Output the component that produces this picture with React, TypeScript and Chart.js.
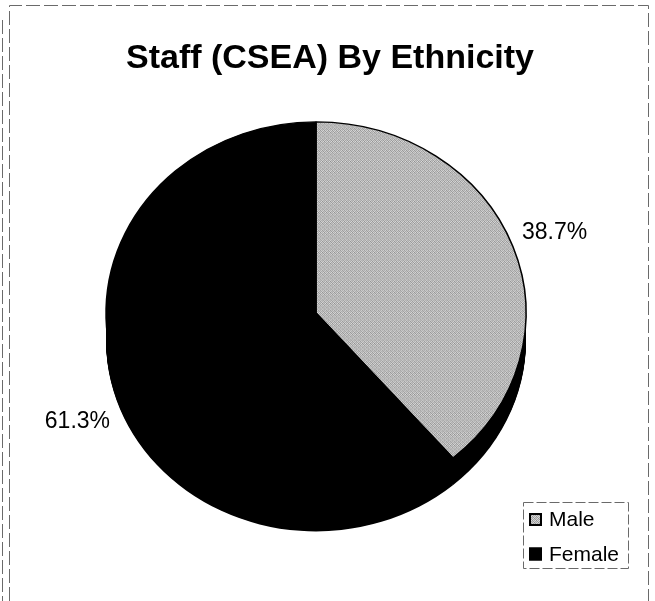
import React, { useEffect, useRef } from "react";
import { Chart, registerables } from "chart.js";

Chart.register(...registerables);

// ---- data ----
const chartTitle = "Staff (CSEA) By Ethnicity";
const categories = ["Male", "Female"];
const shares = [38.7, 61.3];
const valueLabels = ["38.7%", "61.3%"];

// ---- layout / style ----
const W = 655;
const H = 601;
const RADIUS = 210;
const TILT = 0.91;
const DEPTH = 28;
const FONT = '"Liberation Sans", Arial, Helvetica, sans-serif';

function makeGrain(): CanvasPattern | string {
  const c = document.createElement("canvas");
  c.width = 4;
  c.height = 4;
  const g = c.getContext("2d");
  if (!g) return "#b2b2b2";
  const shades = [
    "#949494", "#d4d4d4", "#acacac", "#dadada",
    "#c4c4c4", "#9c9c9c", "#d6d6d6", "#a6a6a6",
    "#a8a8a8", "#dcdcdc", "#909090", "#cacaca",
    "#d0d0d0", "#a4a4a4", "#c8c8c8", "#9a9a9a",
  ];
  shades.forEach((s, i) => {
    g.fillStyle = s;
    g.fillRect(i % 4, Math.floor(i / 4), 1, 1);
  });
  return g.createPattern(c, "repeat") || "#b2b2b2";
}

const framePlugin = {
  id: "frame",
  beforeDraw(chart: any) {
    const ctx = chart.ctx;
    ctx.save();
    ctx.strokeStyle = "#6a6a6a";
    ctx.lineWidth = 1;
    ctx.setLineDash([14, 4]);
    ctx.beginPath();
    ctx.moveTo(9.5, H);
    ctx.lineTo(9.5, 5.5);
    ctx.lineTo(648.5, 5.5);
    ctx.lineTo(648.5, H);
    ctx.moveTo(2.5, 20);
    ctx.lineTo(2.5, H);
    ctx.stroke();
    ctx.restore();
  },
};

const tiltPlugin = {
  id: "tilt3d",
  beforeDatasetsDraw(chart: any) {
    const ctx = chart.ctx;
    const arcs = chart.getDatasetMeta(0).data;
    ctx.save();
    if (!arcs.length) return;
    const cx = arcs[0].x;
    const cy = arcs[0].y;
    ctx.translate(cx, cy);
    ctx.scale(1, TILT);
    ctx.translate(-cx, -cy);
    // side wall of the tilted pie
    ctx.fillStyle = "#000";
    const depth = DEPTH / TILT;
    for (let off = 1; off <= depth; off += 1) {
      arcs.forEach((a: any) => {
        const p = a.getProps(["x", "y", "startAngle", "endAngle", "outerRadius"]);
        ctx.beginPath();
        ctx.moveTo(p.x, p.y + off);
        ctx.arc(p.x, p.y + off, p.outerRadius, p.startAngle, p.endAngle);
        ctx.closePath();
        ctx.fill();
      });
    }
  },
  afterDatasetsDraw(chart: any) {
    const ctx = chart.ctx;
    ctx.restore();
    // value labels placed outside each slice
    const arcs = chart.getDatasetMeta(0).data;
    ctx.save();
    ctx.fillStyle = "#000";
    ctx.font = `23px ${FONT}`;
    ctx.textAlign = "center";
    ctx.textBaseline = "middle";
    arcs.forEach((a: any, i: number) => {
      const p = a.getProps(["x", "y", "startAngle", "endAngle", "outerRadius"]);
      const mid = (p.startAngle + p.endAngle) / 2;
      const c = Math.cos(mid);
      const s = Math.sin(mid);
      const ex = p.x + p.outerRadius * c;
      const ey = p.y + p.outerRadius * TILT * s + (s > 0 ? DEPTH : 0);
      const n = Math.hypot(c, s * TILT);
      const lx = ex + (c / n) * 44;
      const ly = ey + ((s * TILT) / n) * 44;
      ctx.fillText(valueLabels[i], lx, ly);
    });
    ctx.restore();
  },
};

const textPlugin = {
  id: "titleLegend",
  afterDraw(chart: any) {
    const ctx = chart.ctx;
    ctx.save();
    // title
    ctx.fillStyle = "#000";
    ctx.font = `bold 34px ${FONT}`;
    ctx.textAlign = "center";
    ctx.textBaseline = "alphabetic";
    ctx.fillText(chartTitle, 330, 68);

    // legend
    ctx.strokeStyle = "#6a6a6a";
    ctx.lineWidth = 1;
    ctx.setLineDash([10, 3]);
    ctx.strokeRect(523.5, 502.5, 105, 66);
    ctx.setLineDash([]);
    const colors = chart.data.datasets[0].backgroundColor;
    const rowsY = [519.5, 554];
    ctx.font = `21px ${FONT}`;
    ctx.textAlign = "left";
    ctx.textBaseline = "middle";
    chart.data.labels.forEach((lab: string, i: number) => {
      const y = rowsY[i];
      ctx.fillStyle = colors[i];
      ctx.fillRect(529, y - 6.5, 13, 13);
      ctx.strokeStyle = "#000";
      ctx.lineWidth = 2;
      ctx.strokeRect(530, y - 5.5, 11, 11);
      ctx.fillStyle = "#000";
      ctx.fillText(lab, 549, y + 1);
    });
    ctx.restore();
  },
};

export default function App() {
  const ref = useRef<HTMLCanvasElement | null>(null);

  useEffect(() => {
    if (!ref.current) return;
    const grain = makeGrain();
    const chart = new Chart(ref.current, {
      type: "pie",
      data: {
        labels: categories,
        datasets: [
          {
            data: shares,
            backgroundColor: [grain as any, "#000000"],
            borderColor: "#000000",
            borderWidth: 1.5,
            radius: RADIUS,
          } as any,
        ],
      },
      options: {
        animation: false,
        responsive: false,
        devicePixelRatio: 1,
        layout: { padding: { left: 0, right: 23, top: 50, bottom: 25 } },
        plugins: {
          legend: { display: false },
          title: { display: false },
          tooltip: { enabled: false },
        },
      },
      plugins: [framePlugin, tiltPlugin, textPlugin],
    });
    return () => chart.destroy();
  }, []);

  return (
    <div style={{ position: "fixed", left: 0, top: 0, width: W, height: H, background: "#fff" }}>
      <canvas ref={ref} width={W} height={H} style={{ display: "block" }} />
    </div>
  );
}
